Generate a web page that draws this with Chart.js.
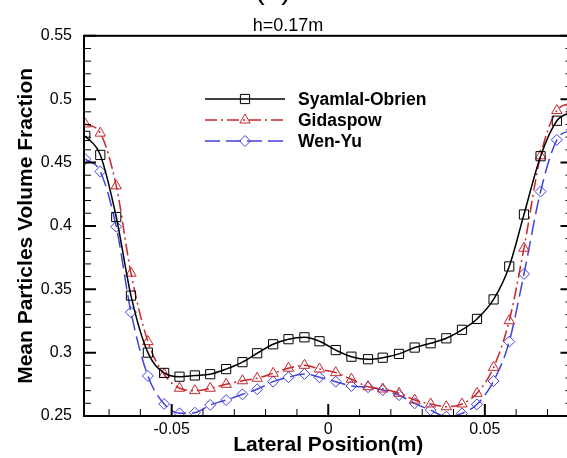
<!DOCTYPE html>
<html>
<head>
<meta charset="utf-8">
<script src="https://cdn.jsdelivr.net/npm/chart.js@4.4.0/dist/chart.umd.min.js"></script>
<style>
  html, body { margin: 0; padding: 0; background: #fff; overflow: hidden; }
  #wrap { width: 580px; height: 458px; }
</style>
</head>
<body>
<div id="wrap"><canvas id="chart" width="580" height="458"></canvas></div>
<script>
// lateral positions of the markers (m)
const positions = [
  -0.0776, -0.0728, -0.0677, -0.0630, -0.0576, -0.0524, -0.0475, -0.0426,
  -0.0377, -0.0326, -0.0274, -0.0227, -0.0176, -0.0127, -0.0076, -0.0028,
  0.0024, 0.0074, 0.0127, 0.0174, 0.0226, 0.0276, 0.0327, 0.0377,
  0.0427, 0.0475, 0.0528, 0.0578, 0.0625, 0.0678, 0.0730, 0.0778,
];

const syamlalObrien = [
  0.471, 0.456, 0.407, 0.345, 0.300, 0.284, 0.281, 0.282,
  0.283, 0.287, 0.2925, 0.2995, 0.3066, 0.3106, 0.3121, 0.309,
  0.302, 0.2968, 0.2948, 0.296, 0.299, 0.304, 0.3074, 0.3113,
  0.318, 0.3266, 0.342, 0.368, 0.409, 0.455, 0.483, 0.490,
];

const gidaspow = [
  0.4805, 0.4732, 0.4316, 0.3627, 0.3087, 0.2829, 0.2719, 0.270,
  0.2719, 0.275, 0.2778, 0.2798, 0.2837, 0.2877, 0.290, 0.2871,
  0.2842, 0.279, 0.2731, 0.2713, 0.2679, 0.2626, 0.2595, 0.2573,
  0.2595, 0.2679, 0.2884, 0.3252, 0.3824, 0.4553, 0.491, 0.497,
];

const wenYu = [
  0.4527, 0.4429, 0.3994, 0.3319, 0.2816, 0.2595, 0.2521, 0.2526,
  0.2587, 0.2626, 0.2671, 0.2711, 0.2771, 0.2806, 0.2832, 0.2806,
  0.2771, 0.2737, 0.2727, 0.2705, 0.2665, 0.260, 0.2547, 0.2495,
  0.2521, 0.2592, 0.2776, 0.3087, 0.3621, 0.4271, 0.4679, 0.476,
];

const xTickValues = [-0.05, 0, 0.05];
const yTickValues = [0.25, 0.3, 0.35, 0.4, 0.45, 0.5, 0.55];

const fontFamily = '"Liberation Sans", Arial, Helvetica, sans-serif';
Chart.defaults.font.family = fontFamily;
Chart.defaults.color = "#000";

function toPoints(values) {
  return values.map((v, i) => ({ x: positions[i], y: v }));
}

function fmtTick(value) {
  return String(Math.round(value * 100) / 100);
}

function series(label, values, color, dash, pointStyle, radius) {
  return {
    label,
    data: toPoints(values),
    borderColor: color,
    borderWidth: 1.5,
    borderDash: dash,
    pointStyle,
    pointRadius: radius,
    pointBorderWidth: 1,
    pointBorderColor: color,
    pointBackgroundColor: "rgba(0,0,0,0)",
    cubicInterpolationMode: "monotone",
    fill: false,
  };
}

const frameAndTicks = {
  id: "frameAndTicks",
  afterDatasetsDraw(chart) {
    const { ctx, chartArea: a, scales } = chart;
    const x = scales.x;
    const y = scales.y;
    ctx.save();
    ctx.strokeStyle = "#000";
    // minor + major ticks, pointing inwards
    for (let i = 0; i <= 30; i++) {
      const py = y.getPixelForValue(0.25 + i * 0.01);
      const major = i % 5 === 0;
      ctx.lineWidth = major ? 2 : 1;
      const len = major ? 12 : 7;
      ctx.beginPath();
      ctx.moveTo(a.left, py);
      ctx.lineTo(a.left + len, py);
      ctx.moveTo(a.right, py);
      ctx.lineTo(a.right - len, py);
      ctx.stroke();
    }
    for (let i = -7; i <= 7; i++) {
      const px = x.getPixelForValue(i * 0.01);
      const major = i % 5 === 0;
      ctx.lineWidth = major ? 2 : 1;
      const len = major ? 12 : 7;
      ctx.beginPath();
      ctx.moveTo(px, a.bottom);
      ctx.lineTo(px, a.bottom - len);
      ctx.stroke();
    }
    ctx.lineWidth = 2;
    ctx.strokeRect(a.left, a.top, a.right - a.left, a.bottom - a.top);
    ctx.restore();
  },
  afterDraw(chart) {
    const ctx = chart.ctx;
    ctx.save();
    // panel letter, mostly cut off by the top edge
    ctx.fillStyle = "#000";
    ctx.font = `30px ${fontFamily}`;
    ctx.textAlign = "center";
    ctx.textBaseline = "alphabetic";
    ctx.fillText("(a)", 273, -1);

    // legend: line sample with a hollow marker in the middle
    const rows = [99, 120, 141];
    chart.data.datasets.forEach((ds, i) => {
      const ly = rows[i];
      ctx.strokeStyle = ds.borderColor;
      ctx.lineWidth = ds.borderWidth;
      ctx.setLineDash(ds.borderDash);
      ctx.beginPath();
      ctx.moveTo(205, ly);
      ctx.lineTo(285, ly);
      ctx.stroke();
      ctx.setLineDash([]);
      ctx.lineWidth = 1;
      ctx.fillStyle = "rgba(0,0,0,0)";
      Chart.helpers.drawPoint(ctx, {
        pointStyle: ds.pointStyle,
        radius: ds.pointRadius,
        rotation: 0,
        borderWidth: 1,
      }, 245, ly);
      ctx.fillStyle = "#000";
      ctx.font = `bold 17.5px ${fontFamily}`;
      ctx.textAlign = "left";
      ctx.textBaseline = "middle";
      ctx.fillText(ds.label, 298, ly + 1);
    });
    ctx.restore();
  },
};

new Chart(document.getElementById("chart"), {
  type: "line",
  data: {
    datasets: [
      series("Syamlal-Obrien", syamlalObrien, "#000000", [], "rect", 6.5),
      series("Gidaspow", gidaspow, "#c8262a", [12, 4, 2, 4], "triangle", 6),
      series("Wen-Yu", wenYu, "#4141dc", [15, 6], "rectRot", 5.5),
    ],
  },
  options: {
    responsive: false,
    animation: false,
    layout: { padding: { left: 0, right: 4, top: 0, bottom: 0 } },
    plugins: {
      legend: { display: false },
      tooltip: { enabled: false },
      title: {
        display: true,
        text: "h=0.17m",
        color: "#000",
        font: { size: 18, weight: "normal", lineHeight: 1.1 },
        padding: { top: 16, bottom: 0 },
      },
    },
    scales: {
      x: {
        type: "linear",
        min: -0.078,
        max: 0.078,
        afterBuildTicks: (s) => { s.ticks = xTickValues.map((v) => ({ value: v })); },
        afterFit: (s) => { s.height = 42; },
        grid: { display: false, drawTicks: false },
        border: { display: false },
        ticks: { font: { size: 16 }, color: "#000", padding: 4, maxRotation: 0, autoSkip: false, callback: fmtTick },
        title: {
          display: true,
          text: "Lateral Position(m)",
          color: "#000",
          font: { size: 21, weight: "bold" },
          padding: { top: 0, bottom: 0 },
        },
      },
      y: {
        min: 0.25,
        max: 0.55,
        afterBuildTicks: (s) => { s.ticks = yTickValues.map((v) => ({ value: v })); },
        afterFit: (s) => { s.width = 84; },
        grid: { display: false, drawTicks: false },
        border: { display: false },
        ticks: { font: { size: 16 }, color: "#000", padding: 12, autoSkip: false, callback: fmtTick },
        title: {
          display: true,
          text: "Mean Particles Volume Fraction",
          color: "#000",
          font: { size: 21, weight: "bold" },
          padding: { top: 14, bottom: 0 },
        },
      },
    },
  },
  plugins: [frameAndTicks],
});
</script>
</body>
</html>
